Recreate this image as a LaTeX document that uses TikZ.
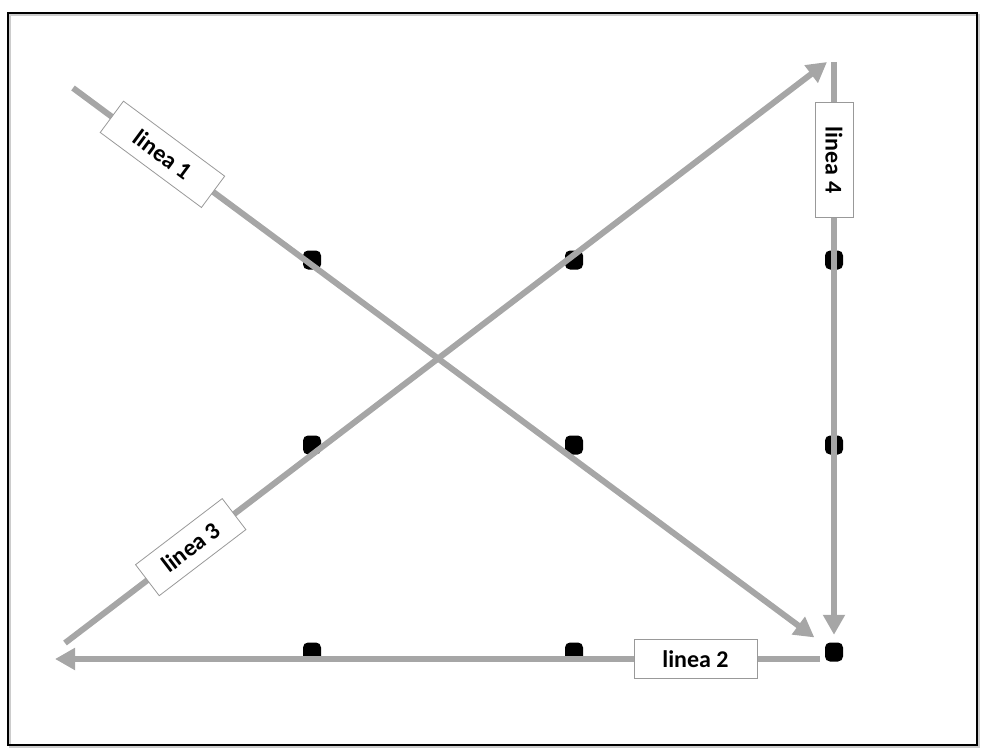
\documentclass[tikz,border=0pt]{standalone}
\usepackage{fontspec}
\setmainfont{Carlito}
\usetikzlibrary{arrows.meta}
\definecolor{linegray}{RGB}{166,166,166}
\begin{document}
\begin{tikzpicture}[
    x=1pt, y=-1pt,
    dot/.style={rectangle, rounded corners=5pt, fill=black, minimum width=18pt, minimum height=19pt, inner sep=0pt},
    arrow/.style={line width=6pt, draw=linegray, -{Triangle[length=20pt,width=21pt]}},
    tag/.style={rectangle, draw=gray!80, line width=0.8pt, fill=white, minimum width=123pt, minimum height=39pt, inner sep=0pt, font=\fontsize{24}{28}\selectfont\bfseries}
]
    \useasboundingbox (0,0) rectangle (983,749);
    \draw[gray!40, line width=2pt] (10,15) rectangle (979,747);
    \draw[line width=2.5pt] (8,13) rectangle (977,745);

    \node[dot] (a1) at (312,260) {};
    \node[dot] (a2) at (574,260) {};
    \node[dot] (a3) at (834,260) {};
    \node[dot] (b1) at (312,445) {};
    \node[dot] (b2) at (574,445) {};
    \node[dot] (b3) at (834,445) {};
    \node[dot] (c1) at (312,652) {};
    \node[dot] (c2) at (574,652) {};
    \node[dot] (c3) at (834,652) {};

    \coordinate (s1) at (73,88);
    \coordinate (s3) at (65,643);
    \coordinate (e3) at (827,62);
    \coordinate (s4) at (834,62);
    \coordinate (e2) at (55,659);

    \draw[arrow, shorten >=13pt] (s1) -- node[tag, sloped, pos=0.119, minimum width=126pt] (t1) {linea 1} (c3);
    \draw[arrow, shorten <=5pt] (c3.west |- e2) -- node[tag, sloped, pos=0.168] (t2) {linea 2} (e2);
    \draw[arrow] (s3) -- node[tag, sloped, pos=0.165, minimum width=109pt] (t3) {linea 3} (e3);
    \draw[arrow, shorten >=7.5pt] (s4) -- node[tag, rotate=-90, pos=0.169, minimum width=115pt, minimum height=38pt] (t4) {linea 4} (c3);
\end{tikzpicture}
\end{document}
